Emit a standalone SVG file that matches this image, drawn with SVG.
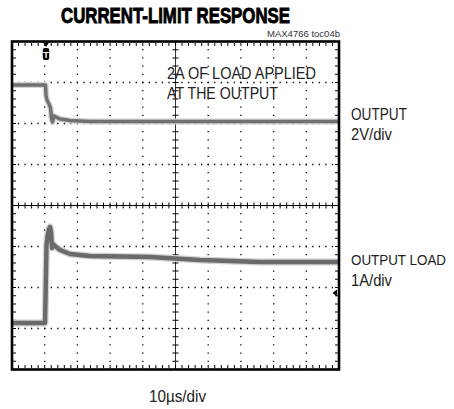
<svg xmlns="http://www.w3.org/2000/svg" width="454" height="409" viewBox="0 0 454 409">
<style>
.lbl{font-family:"Liberation Sans Narrow","Liberation Sans",Arial,sans-serif;font-size:17px;fill:#222}
.grid{stroke:#000;stroke-width:1.3;fill:none}
.tick{stroke:#000;fill:none}
.trace{fill:none;stroke-linejoin:round;stroke-linecap:butt}
</style>
<rect width="454" height="409" fill="#fff"/>
<text x="175.5" y="23" text-anchor="middle" font-family="'Liberation Sans Narrow','Liberation Sans',Arial,sans-serif" font-size="22" font-weight="bold" stroke="#000" stroke-width="0.9" textLength="229" lengthAdjust="spacingAndGlyphs">CURRENT-LIMIT RESPONSE</text>
<text x="267" y="37.3" font-family="'Liberation Sans Narrow','Liberation Sans',Arial,sans-serif" font-size="8.5" fill="#333" textLength="73" lengthAdjust="spacingAndGlyphs">MAX4766 toc04b</text>
<g id="grid">
<g class="grid" stroke-dasharray="1.3 5.24">
<line x1="11.35" y1="82.5" x2="339" y2="82.5"/>
<line x1="11.35" y1="123.5" x2="339" y2="123.5"/>
<line x1="11.35" y1="164.5" x2="339" y2="164.5"/>
<line x1="11.35" y1="246.5" x2="339" y2="246.5"/>
<line x1="11.35" y1="287.5" x2="339" y2="287.5"/>
<line x1="11.35" y1="328.5" x2="339" y2="328.5"/>
</g>
<g class="grid" stroke-dasharray="1.3 6.9">
<line x1="44.7" y1="40.85" x2="44.7" y2="369.5"/>
<line x1="77.4" y1="40.85" x2="77.4" y2="369.5"/>
<line x1="110.1" y1="40.85" x2="110.1" y2="369.5"/>
<line x1="142.8" y1="40.85" x2="142.8" y2="369.5"/>
<line x1="208.2" y1="40.85" x2="208.2" y2="369.5"/>
<line x1="240.9" y1="40.85" x2="240.9" y2="369.5"/>
<line x1="273.6" y1="40.85" x2="273.6" y2="369.5"/>
<line x1="306.3" y1="40.85" x2="306.3" y2="369.5"/>
</g>
<line x1="12" y1="205.5" x2="339" y2="205.5" stroke="#000" stroke-width="1.2"/>
<line x1="175.5" y1="41.5" x2="175.5" y2="369.5" stroke="#000" stroke-width="0.8"/>
<line class="tick" x1="11.5" y1="205.5" x2="339" y2="205.5" stroke-width="6" stroke-dasharray="1 5.54"/>
<line class="tick" x1="175.5" y1="41" x2="175.5" y2="369.5" stroke-width="6" stroke-dasharray="1 7.2"/>
<line class="tick" x1="11.5" y1="44.5" x2="339" y2="44.5" stroke-width="3" stroke-dasharray="1 5.54"/>
<line class="tick" x1="11.5" y1="366.5" x2="339" y2="366.5" stroke-width="3" stroke-dasharray="1 5.54"/>
<line class="tick" x1="14.5" y1="41" x2="14.5" y2="369.5" stroke-width="3" stroke-dasharray="1 7.2"/>
<line class="tick" x1="336.5" y1="41" x2="336.5" y2="369.5" stroke-width="3" stroke-dasharray="1 7.2"/>
</g>
<g id="traces">
<path class="trace" stroke="#d2d2d2" stroke-width="6" d="M12,85 L45.5,85 L46,95 L47,100 L49,104 L50.5,108 L51.5,118 L52.5,122 L54,116 L56,117 L60,119 L70,120.5 L90,121.5 L150,121.5 L250,121.5 L339,121.5"/>
<path class="trace" stroke="#707070" stroke-width="3.4" d="M12,85 L45.5,85 L46,95 L47,100 L49,104 L50.5,108 L51.5,118 L52.5,122 L54,116 L56,117 L60,119 L70,120.5 L90,121.5 L150,121.5 L250,121.5 L339,121.5"/>
<path class="trace" stroke="#d2d2d2" stroke-width="7" d="M12,323 L45,323 L45.5,300 L46.5,245 L47.5,236 L49,229 L50,227 L51,232 L52,248 L53,244 L55,246 L60,250 L70,254 L90,256 L150,257 L200,260 L260,262 L339,262"/>
<path class="trace" stroke="#6a6a6a" stroke-width="4.4" d="M12,323 L45,323 L45.5,300 L46.5,245 L47.5,236 L49,229 L50,227 L51,232 L52,248 L53,244 L55,246 L60,250 L70,254 L90,256 L150,257 L200,260 L260,262 L339,262"/>
</g>
<rect x="12" y="41.5" width="327" height="328" fill="none" stroke="#000" stroke-width="2.6"/>
<g id="trigger">
<polygon points="43,42.5 49,42.5 46,47" fill="#000"/>
<rect x="42.8" y="48" width="6.4" height="12" rx="2" fill="#000"/>
<text x="46" y="57.6" text-anchor="middle" font-family="'Liberation Sans',Arial,sans-serif" font-size="9" font-weight="bold" fill="#fff">T</text>
</g>
<g id="ref-marker">
<polygon points="332.5,293 337,289.5 337,296.5" fill="#000"/>
</g>
<g id="labels">
<text class="lbl" x="167" y="79" textLength="149" lengthAdjust="spacingAndGlyphs">2A OF LOAD APPLIED</text>
<text class="lbl" x="167" y="99" textLength="111" lengthAdjust="spacingAndGlyphs">AT THE OUTPUT</text>
<text class="lbl" x="351" y="120" textLength="56" lengthAdjust="spacingAndGlyphs">OUTPUT</text>
<text class="lbl" x="351" y="140" textLength="41" lengthAdjust="spacingAndGlyphs">2V/div</text>
<text class="lbl" x="351" y="265" style="font-size:14px" textLength="95" lengthAdjust="spacingAndGlyphs">OUTPUT LOAD</text>
<text class="lbl" x="351" y="286" textLength="41" lengthAdjust="spacingAndGlyphs">1A/div</text>
<text class="lbl" x="149" y="402" textLength="57" lengthAdjust="spacingAndGlyphs">10µs/div</text>
</g>
</svg>
